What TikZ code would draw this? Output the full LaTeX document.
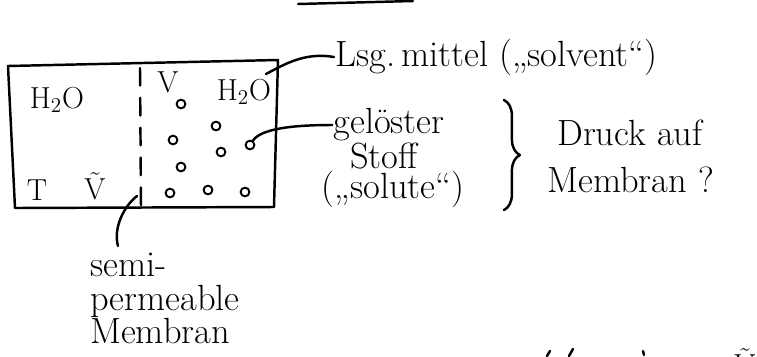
\documentclass[tikz,border=0pt]{standalone}
\usetikzlibrary{decorations.pathreplacing}
\tikzset{
	solute/.style={draw,circle,inner sep=0pt,minimum size=5pt,line width=1.1pt},
	lbl/.style={inner sep=1pt},
	note/.style={inner sep=0pt,font=\huge},
}
\begin{document}
\begin{tikzpicture}[x=0.02cm,y=-0.02cm,line join=round,line cap=round,line width=1.4pt,font=\LARGE]
		\useasboundingbox (0,0) rectangle (757,356);
		% Gefaess mit Membran
		\draw (8,66)--(278,60)--(274,207)--(15,208)--cycle;
		\coordinate (mtop) at (140,68);
		\coordinate (mbot) at (141,207);
		\draw[dash pattern=on 10pt off 7pt] (mtop)--(mbot);
		\node[lbl] (h2oL) at (57,100) {H$_2$O};
		\node[lbl] (h2oR) at (244,92) {H$_2$O};
		\node[lbl] (V) at (168,82) {V};
		\node[lbl] (T) at (37,190) {T};
		\node[lbl] (Vt) at (95,186) {$\tilde{\mathrm{V}}$};
		% geloester Stoff
		\foreach \i/\x/\y in {1/181/104,2/173/140,3/216/126,4/250/145,5/221/152,6/181/167,7/170/193,8/208/190,9/245/192}
			\node[solute] (s\i) at (\x,\y) {};
		% Beschriftung
		\node[note,anchor=west] (solv) at (334,57) {Lsg.\,mittel („solvent“)};
		\coordinate (oR) at (266,74);
		\draw (oR) .. controls (285,64) and (305,52) .. (solv.west);
		\node[note] (gel) at (389,125) {gelöster};
		\node[note] (stoff) at (384,156) {Stoff};
		\node[note] (solu) at (393,189) {(„solute“)};
		\draw (s4) .. controls +(12,-18) and +(-30,0) .. (gel.west);
		\draw decorate[decoration={brace,amplitude=9pt}] {(504,100)--(504,210)};
		\node[note,anchor=west] (druck) at (556,133) {Druck auf};
		\node[note,anchor=west] (membr) at (546,180) {Membran ?};
		\node[note,anchor=north west,align=left] (memb) at (89,252) {semi-\\[-6pt]permeable\\[-6pt]Membran};
		\coordinate (mfoot) at (118,246);
		\coordinate (mtip) at (137,196);
		\draw (mfoot) .. controls (113,228) and (124,206) .. (mtip);
		% abgeschnitten
		\draw (298,4)--(413,1);
		\node[lbl] (cut) at (745,362) {$\tilde{\mathrm{V}}$};
		\draw (547,356)--(550,351) (569,356)--(573,349) (643,351)--(644,355);
\end{tikzpicture}
\end{document}
